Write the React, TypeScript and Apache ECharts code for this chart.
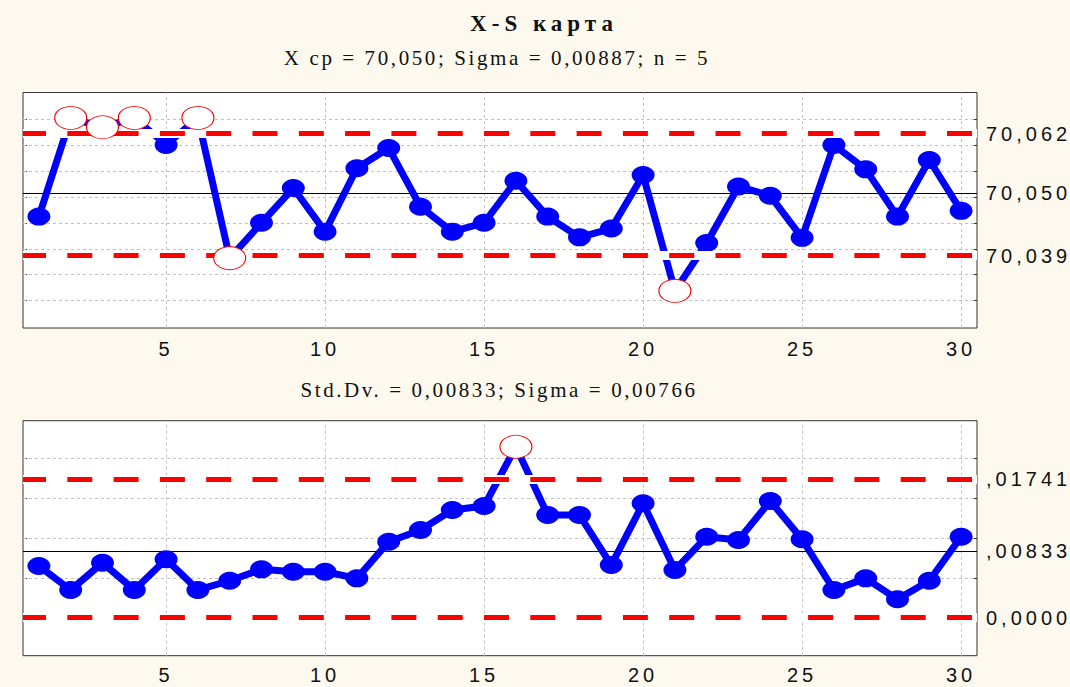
import React, { useEffect, useRef } from "react";
import * as echarts from "echarts";

// ---- data ----
const samples = [1, 2, 3, 4, 5, 6, 7, 8, 9, 10, 11, 12, 13, 14, 15, 16, 17, 18, 19, 20, 21, 22, 23, 24, 25, 26, 27, 28, 29, 30];

const xMeans = [
  70.0462, 70.0652, 70.0634, 70.0652, 70.06, 70.0652, 70.0382, 70.045, 70.0517, 70.0433,
  70.0555, 70.0594, 70.0481, 70.0433, 70.045, 70.0531, 70.0462, 70.0422, 70.0439, 70.0542,
  70.0319, 70.0411, 70.052, 70.0502, 70.0421, 70.06, 70.0553, 70.0462, 70.0571, 70.0473,
];

const sDevs = [
  0.00649, 0.00348, 0.0069, 0.00348, 0.00733, 0.00348, 0.00464, 0.00607, 0.00577, 0.00577,
  0.00494, 0.00954, 0.01101, 0.01352, 0.01402, 0.02146, 0.01289, 0.01289, 0.00661, 0.01436,
  0.00599, 0.01017, 0.00975, 0.01465, 0.00984, 0.00348, 0.00494, 0.00231, 0.00464, 0.01017,
];

// limits: [UCL, CL, LCL]
const xLimitValues = [70.0622, 70.0507, 70.0387];
const xLimitLabels = ["70,062", "70,050", "70,039"];
const sLimitValues = [0.01741, 0.00833, 0];
const sLimitLabels = [",01741", ",00833", "0,0000"];

const xTickLabels = [5, 10, 15, 20, 25, 30];
const xGridY = [70.03, 70.035, 70.04, 70.045, 70.05, 70.055, 70.06, 70.065];
const sGridY = [0, 0.005, 0.01, 0.015, 0.02];

const titleText = "X-S карта";
const subtitleX = "X ср = 70,050; Sigma = 0,00887; n = 5";
const subtitleS = "Std.Dv. = 0,00833; Sigma = 0,00766";

// ---- styles ----
const BG = "#fdf9ef";
const BLUE = "#0000ff";
const RED = "#ff0000";
const SANS = "Liberation Sans";
const SERIF = "Liberation Serif";

const css = `
#xs-chart text { letter-spacing: 4px; }
#xs-chart text[style*="Serif"] { letter-spacing: 2.6px; }
#xs-chart text[style*="bold"] { letter-spacing: 5px; }
`;

const panels = [
  { values: xMeans, limits: xLimitValues, labels: xLimitLabels, gridY: xGridY, min: 70.02474, max: 70.0701, top: 92.5, height: 235.5, labelMargin: 11 },
  { values: sDevs, limits: sLimitValues, labels: sLimitLabels, gridY: sGridY, min: -0.00477, max: 0.02473, top: 420.7, height: 235, labelMargin: 9 },
];

function buildOption() {
  const grid: any[] = [];
  const xAxis: any[] = [];
  const yAxis: any[] = [];
  const series: any[] = [];

  panels.forEach((p, i) => {
    grid.push({
      left: 23, right: 93, top: p.top, height: p.height,
      show: true, backgroundColor: "#ffffff", borderColor: "#333333", borderWidth: 1,
    });
    xAxis.push({
      type: "value", gridIndex: i, min: 0.5, max: 30.5,
      axisLine: { show: false }, axisTick: { show: false }, splitLine: { show: false },
      axisLabel: {
        customValues: xTickLabels, fontSize: 20, fontFamily: SANS, color: "#111111", margin: p.labelMargin,
      },
    });
    const yBase = {
      type: "value", gridIndex: i, min: p.min, max: p.max,
      axisLine: { show: false }, axisLabel: { show: false }, splitLine: { show: false },
      axisTick: { show: true, inside: true, length: 4, customValues: p.gridY, lineStyle: { color: "#333333", width: 1 } },
    };
    yAxis.push({ ...yBase, position: "right" });
    yAxis.push({ ...yBase, position: "left" });

    const yi = 2 * i;
    const [ucl, cl, lcl] = p.limits;
    const ooc = p.values.map((v) => v > ucl || v < lcl);
    const labelStyle = {
      show: true, position: "end", distance: 9, fontSize: 20, fontFamily: SANS, color: "#111111",
    };

    // grid lines
    series.push({
      type: "line", xAxisIndex: i, yAxisIndex: yi, data: [], silent: true,
      markLine: {
        silent: true, symbol: "none", z: 1, precision: 8, animation: false, label: { show: false },
        lineStyle: { color: "#c2c2c2", width: 1, type: [3, 3] },
        data: [
          ...xTickLabels.map((v) => ({ xAxis: v })),
          ...p.gridY.map((v) => ({ yAxis: v })),
        ],
      },
    });
    // center line
    series.push({
      type: "line", xAxisIndex: i, yAxisIndex: yi, data: [], silent: true,
      markLine: {
        silent: true, symbol: "none", z: 2, precision: 8, animation: false,
        lineStyle: { color: "#000000", width: 1, type: "solid" },
        label: { ...labelStyle, formatter: p.labels[1] },
        data: [{ yAxis: cl }],
      },
    });
    // data line
    series.push({
      type: "line", xAxisIndex: i, yAxisIndex: yi, z: 3, silent: true,
      symbolSize: [23, 18],
      itemStyle: { color: BLUE, opacity: 1 },
      lineStyle: { color: BLUE, width: 7, cap: "round", join: "round" },
      data: samples.map((s, k) => ({ value: [s, p.values[k]], symbol: ooc[k] ? "none" : "circle" })),
    });
    // white underlay of limit lines
    series.push({
      type: "line", xAxisIndex: i, yAxisIndex: yi, data: [], silent: true,
      markLine: {
        silent: true, symbol: "none", z: 4, precision: 8, animation: false, label: { show: false },
        lineStyle: { color: "#ffffff", width: 9, type: "solid" },
        data: [{ yAxis: ucl }, { yAxis: lcl }],
      },
    });
    // red dashed limits
    series.push({
      type: "line", xAxisIndex: i, yAxisIndex: yi, data: [], silent: true,
      markLine: {
        silent: true, symbol: "none", z: 5, precision: 8, animation: false,
        lineStyle: { color: RED, width: 5, type: [25, 21.3], dashOffset: 2, cap: "butt" },
        label: labelStyle,
        data: [
          { yAxis: ucl, label: { ...labelStyle, formatter: p.labels[0] } },
          { yAxis: lcl, label: { ...labelStyle, formatter: p.labels[2] } },
        ],
      },
    });
    // out-of-control markers
    series.push({
      type: "scatter", xAxisIndex: i, yAxisIndex: yi, z: 6, silent: true,
      symbol: "circle", symbolSize: [32, 23],
      itemStyle: { color: "#ffffff", opacity: 1, borderColor: RED, borderWidth: 1 },
      data: samples.filter((_, k) => ooc[k]).map((s) => [s, p.values[samples.indexOf(s)]]),
    });
  });

  return {
    animation: false,
    backgroundColor: BG,
    title: [
      { text: titleText, left: 544, top: 12, textAlign: "center", padding: 0,
        textStyle: { fontFamily: SERIF, fontWeight: "bold", fontSize: 23, color: "#111111" } },
      { text: subtitleX, left: 497, top: 47, textAlign: "center", padding: 0,
        textStyle: { fontFamily: SERIF, fontWeight: "normal", fontSize: 21, color: "#111111" } },
      { text: subtitleS, left: 499, top: 379, textAlign: "center", padding: 0,
        textStyle: { fontFamily: SERIF, fontWeight: "normal", fontSize: 21, color: "#111111" } },
    ],
    grid, xAxis, yAxis, series,
  };
}

export default function App() {
  const ref = useRef<HTMLDivElement>(null);
  useEffect(() => {
    if (!ref.current) return;
    const chart = echarts.init(ref.current, undefined, { renderer: "svg" });
    chart.setOption(buildOption() as any);
    return () => chart.dispose();
  }, []);
  return (
    <>
      <style>{css}</style>
      <div id="xs-chart" ref={ref} style={{ position: "fixed", left: 0, top: 0, width: 1070, height: 687 }} />
    </>
  );
}
